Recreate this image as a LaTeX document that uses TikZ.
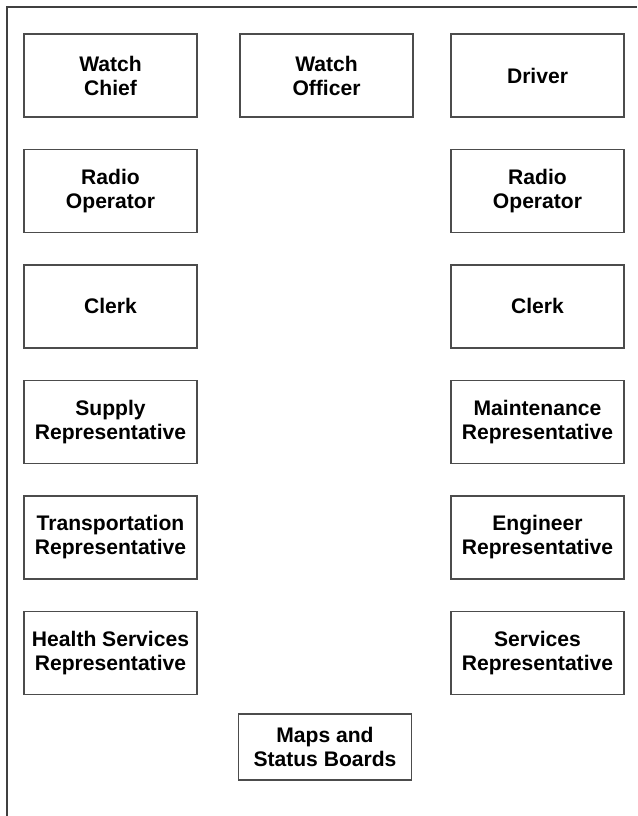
\documentclass[tikz,border=0pt]{standalone}
\usepackage{fontspec}
\setmainfont{Liberation Sans}
\usetikzlibrary{positioning}

\begin{document}
\begin{tikzpicture} [x = 0.02cm, y = -0.02cm, node distance = 2.31cm,
  post/.style = {draw = black!70, line width = 0.9pt, minimum width = 3.46cm, minimum height = 1.66cm, align = center, inner sep = 0pt, font = \fontsize{12}{13.7}\selectfont\bfseries}]

\useasboundingbox (0,0) rectangle (637,816);
\draw [line width = 1.3pt, black!75] (7,816) -- (7,7) -- (637,7);

\node [post] (chief) at (110.5,75.5) {Watch\\Chief};
\node [post] (officer) at (326.5,75.5) {Watch\\Officer};
\node [post] (driver) at (537.5,75.5) {Driver};

\node [post] (radiol) [below of = chief] {Radio\\Operator};
\node [post] (clerkl) [below of = radiol] {Clerk};
\node [post] (supply) [below of = clerkl] {Supply\\Representative};
\node [post] (transport) [below of = supply] {Transportation\\Representative};
\node [post] (health) [below of = transport] {Health Services\\Representative};

\node [post] (radior) [below of = driver] {Radio\\Operator};
\node [post] (clerkr) [below of = radior] {Clerk};
\node [post] (maint) [below of = clerkr] {Maintenance\\Representative};
\node [post] (engineer) [below of = maint] {Engineer\\Representative};
\node [post] (services) [below of = engineer] {Services\\Representative};

\node [post, minimum height = 1.32cm] (maps) at (325,747) {Maps and\\Status Boards};

\end{tikzpicture}
\end{document}
